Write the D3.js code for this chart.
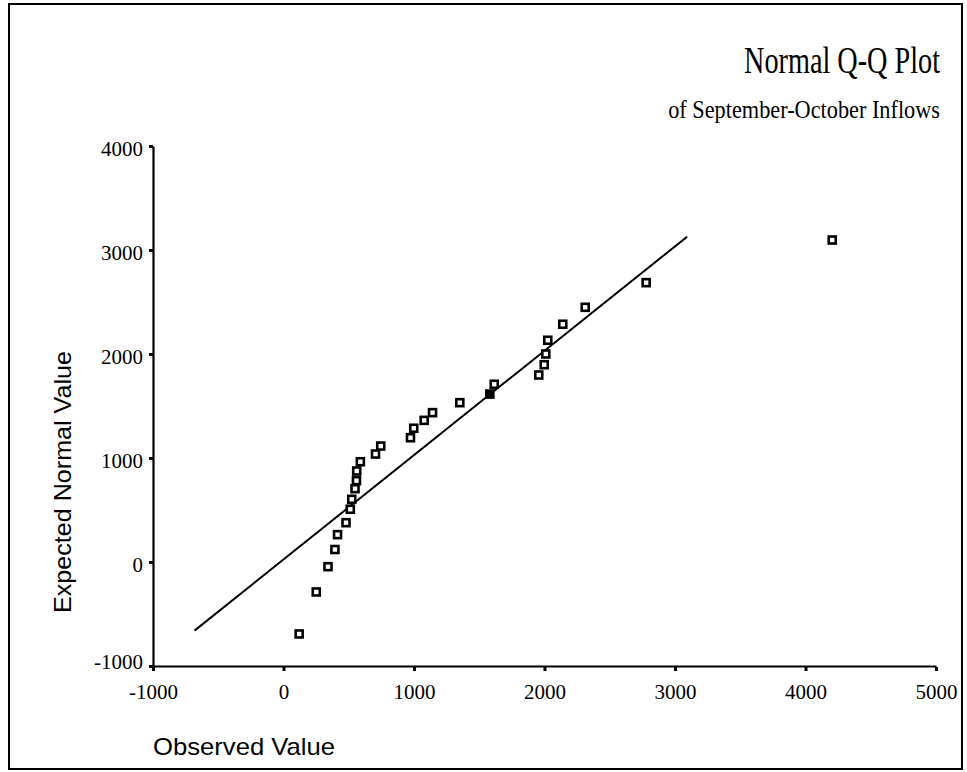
<!DOCTYPE html>
<html>
<head>
<meta charset="utf-8">
<script src="https://cdn.jsdelivr.net/npm/d3@7"></script>
<style>
  html, body { margin: 0; padding: 0; background: #fff; }
  svg { display: block; }
</style>
</head>
<body>
<svg id="chart" width="967" height="772"></svg>
<script>
// ---- data ----
const titleText = "Normal Q-Q Plot";
const subtitleText = "of September-October Inflows";
const xLabel = "Observed Value";
const yLabel = "Expected Normal Value";
const xTicks = [-1000, 0, 1000, 2000, 3000, 4000, 5000];
const yTicks = [-1000, 0, 1000, 2000, 3000, 4000];
const observed = [120, 251, 341, 394, 414, 479, 512, 523, 548, 559, 561, 589, 705, 745,
  973, 998, 1078, 1142, 1351, 1581, 1615, 1956, 1998, 2010, 2025, 2140, 2312, 2779, 4205];
const expected = [-692, -288, -45, 120, 263, 378, 507, 603, 705, 782, 875, 964, 1038, 1115,
  1195, 1286, 1362, 1436, 1532, 1615, 1709, 1798, 1897, 2000, 2132, 2286, 2449, 2686, 3096];
const overlapped = [19]; // marker drawn solid (overlapping points)
const lineObs = [-682, 3093];
const lineExp = [-660, 3128];

// ---- layout ----
const svg = d3.select("#chart");
const x = d3.scaleLinear().domain([-1000, 5000]).range([153, 936]);
const y = d3.scaleLinear().domain([-1000, 4000]).range([666, 146]);
const serif = "'Liberation Serif', 'Times New Roman', serif";
const sans = "'Liberation Sans', Arial, sans-serif";
const fmt = d => String(d);

// frame
svg.append("rect").attr("x", 9).attr("y", 4).attr("width", 953).attr("height", 765)
  .attr("fill", "none").attr("stroke", "#000").attr("stroke-width", 2);

// condensed right-aligned text helper
function condensed(txt, rightX, baseY, size, targetW) {
  const g = svg.append("g");
  const t = g.append("text").attr("text-anchor", "end")
    .attr("font-family", serif).attr("font-size", size).text(txt);
  const w = t.node().getComputedTextLength();
  const s = Math.min(1, targetW / w);
  g.attr("transform", `translate(${rightX},${baseY}) scale(${s},1)`);
}
condensed(titleText, 940, 73, 37, 196);
condensed(subtitleText, 940, 118, 25, 272);

// axes
const xAxis = d3.axisBottom(x).tickValues(xTicks).tickSize(4).tickSizeOuter(0).tickPadding(14)
  .tickFormat(fmt);
const gx = svg.append("g").attr("transform", `translate(0,${y(-1000)})`).call(xAxis);
gx.select(".domain").attr("stroke-width", 2.2);
gx.selectAll(".tick line").attr("stroke-width", 3).attr("transform", "translate(0,1)");
gx.selectAll(".tick text").attr("font-family", serif)
  .attr("font-size", 21).attr("fill", "#000");

const yAxis = d3.axisLeft(y).tickValues(yTicks).tickSize(4).tickSizeOuter(0).tickPadding(6)
  .tickFormat(fmt);
const gy = svg.append("g").attr("transform", `translate(${x(-1000)},0)`).call(yAxis);
gy.select(".domain").attr("stroke-width", 2.2);
gy.selectAll(".tick line").attr("stroke-width", 3);
gy.selectAll(".tick text").attr("font-family", serif)
  .attr("font-size", 21).attr("fill", "#000")
  .attr("dy", d => d === -1000 ? "0.1em" : "0.45em");

// axis titles
svg.append("text").attr("x", 153).attr("y", 755)
  .attr("font-family", sans).attr("font-size", 24)
  .attr("textLength", 182).attr("lengthAdjust", "spacingAndGlyphs")
  .text(xLabel);
svg.append("text").attr("transform", "translate(71,482) rotate(-90)").attr("text-anchor", "middle")
  .attr("font-family", sans).attr("font-size", 24)
  .attr("textLength", 262).attr("lengthAdjust", "spacingAndGlyphs")
  .text(yLabel);

// reference line
svg.append("line")
  .attr("x1", x(lineObs[0])).attr("y1", y(lineExp[0]))
  .attr("x2", x(lineObs[1])).attr("y2", y(lineExp[1]))
  .attr("stroke", "#000").attr("stroke-width", 2);

// points
const pts = observed.map((o, i) => ({ o, e: expected[i], i }));
svg.append("g").selectAll("rect").data(pts).join("rect")
  .attr("x", d => x(d.o) - 3.5).attr("y", d => y(d.e) - 3.5)
  .attr("width", 7).attr("height", 7)
  .attr("fill", d => overlapped.includes(d.i) ? "#000" : "#fff")
  .attr("stroke", "#000").attr("stroke-width", 2.6);
</script>
</body>
</html>
